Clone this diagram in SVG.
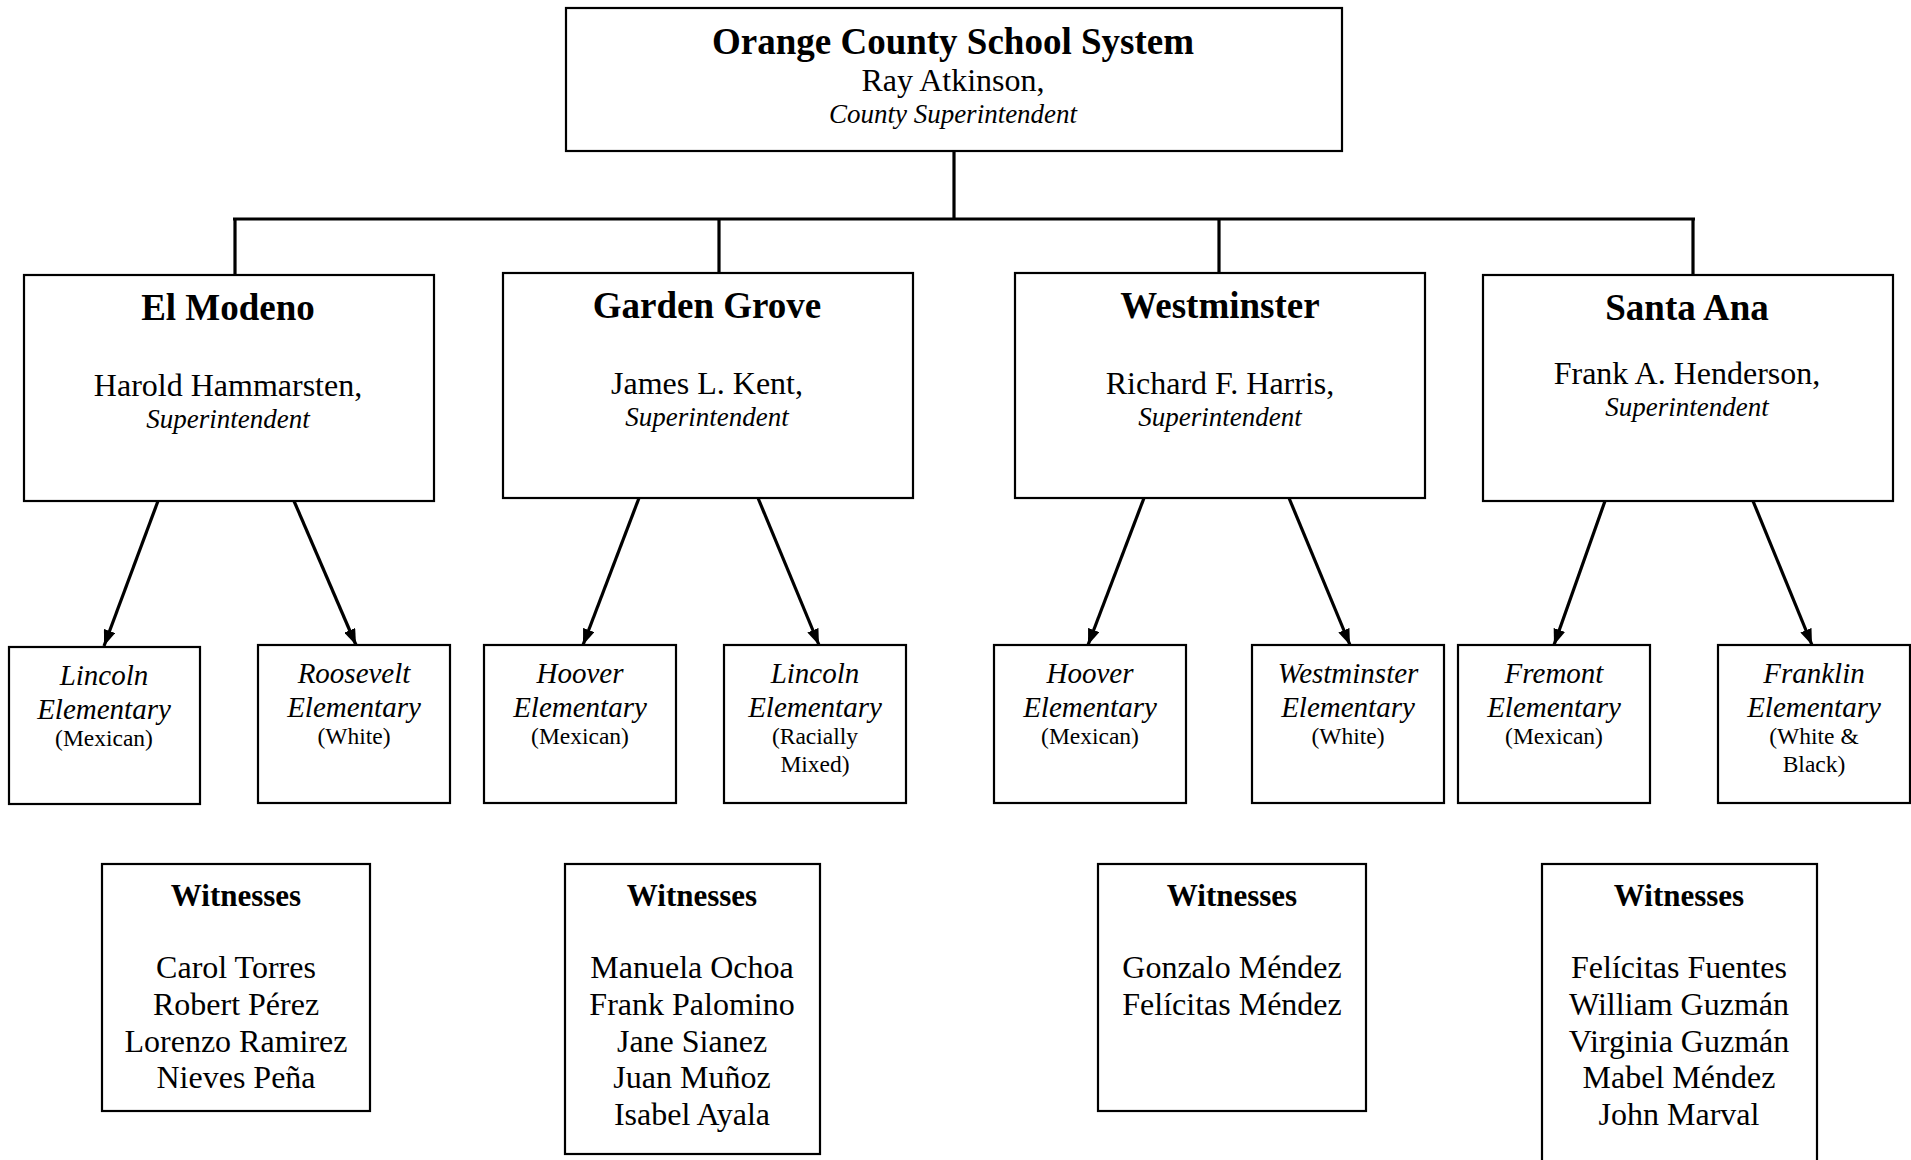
<svg xmlns="http://www.w3.org/2000/svg" width="1911" height="1160" viewBox="0 0 1911 1160">
<style>
  .box { fill: #fff; stroke: #000; stroke-width: 2.2; }
  text { font-family: "Liberation Serif", "Times New Roman", serif; fill: #000; text-anchor: middle; }
  .title { font-size: 37px; font-weight: bold; }
  .name { font-size: 32px; }
  .role { font-size: 27px; font-style: italic; }
  .school { font-size: 29px; font-style: italic; }
  .race { font-size: 23.5px; }
  .wit { font-size: 31px; font-weight: bold; }
  .conn { stroke: #000; stroke-width: 3.2; fill: none; }
</style>
<defs>
  <marker id="ah" markerWidth="16" markerHeight="12" refX="16" refY="6" orient="auto" markerUnits="userSpaceOnUse">
    <path d="M0,0 L16,6 L0,12 z" fill="#000"/>
  </marker>
</defs>
<rect width="1911" height="1160" fill="#fff"/>

<g id="connectors">
  <line class="conn" x1="954" y1="151" x2="954" y2="219"/>
  <line class="conn" x1="233" y1="219" x2="1695" y2="219"/>
  <line class="conn" x1="235" y1="219" x2="235" y2="275"/>
  <line class="conn" x1="719" y1="219" x2="719" y2="273"/>
  <line class="conn" x1="1219" y1="219" x2="1219" y2="273"/>
  <line class="conn" x1="1693" y1="219" x2="1693" y2="275"/>
  <line class="conn" x1="158" y1="501" x2="104" y2="646" marker-end="url(#ah)"/>
  <line class="conn" x1="294" y1="501" x2="356" y2="645" marker-end="url(#ah)"/>
  <line class="conn" x1="639" y1="498" x2="583" y2="645" marker-end="url(#ah)"/>
  <line class="conn" x1="758" y1="498" x2="819" y2="645" marker-end="url(#ah)"/>
  <line class="conn" x1="1144" y1="498" x2="1088" y2="645" marker-end="url(#ah)"/>
  <line class="conn" x1="1289" y1="498" x2="1350" y2="645" marker-end="url(#ah)"/>
  <line class="conn" x1="1605" y1="501" x2="1554" y2="645" marker-end="url(#ah)"/>
  <line class="conn" x1="1753" y1="501" x2="1812" y2="645" marker-end="url(#ah)"/>
</g>

<g id="county">
  <rect class="box" x="566" y="8" width="776" height="143"/>
  <text class="title" x="953" y="54">Orange County School System</text>
  <text class="name" x="953" y="91">Ray Atkinson,</text>
  <text class="role" x="953" y="123">County Superintendent</text>
</g>

<g id="elmodeno">
  <rect class="box" x="24" y="275" width="410" height="226"/>
  <text class="title" x="228" y="320">El Modeno</text>
  <text class="name" x="228" y="396">Harold Hammarsten,</text>
  <text class="role" x="228" y="428">Superintendent</text>
</g>
<g id="gardengrove">
  <rect class="box" x="503" y="273" width="410" height="225"/>
  <text class="title" x="707" y="318">Garden Grove</text>
  <text class="name" x="707" y="394">James L. Kent,</text>
  <text class="role" x="707" y="426">Superintendent</text>
</g>
<g id="westminster">
  <rect class="box" x="1015" y="273" width="410" height="225"/>
  <text class="title" x="1220" y="318">Westminster</text>
  <text class="name" x="1220" y="394">Richard F. Harris,</text>
  <text class="role" x="1220" y="426">Superintendent</text>
</g>
<g id="santaana">
  <rect class="box" x="1483" y="275" width="410" height="226"/>
  <text class="title" x="1687" y="320">Santa Ana</text>
  <text class="name" x="1687" y="384">Frank A. Henderson,</text>
  <text class="role" x="1687" y="416">Superintendent</text>
</g>

<g id="lincoln-em">
  <rect class="box" x="9" y="647" width="191" height="157"/>
  <text class="school" x="104" y="685">Lincoln</text>
  <text class="school" x="104" y="719">Elementary</text>
  <text class="race" x="104" y="746">(Mexican)</text>
</g>
<g id="roosevelt">
  <rect class="box" x="258" y="645" width="192" height="158"/>
  <text class="school" x="354" y="683">Roosevelt</text>
  <text class="school" x="354" y="717">Elementary</text>
  <text class="race" x="354" y="744">(White)</text>
</g>
<g id="hoover-gg">
  <rect class="box" x="484" y="645" width="192" height="158"/>
  <text class="school" x="580" y="683">Hoover</text>
  <text class="school" x="580" y="717">Elementary</text>
  <text class="race" x="580" y="744">(Mexican)</text>
</g>
<g id="lincoln-gg">
  <rect class="box" x="724" y="645" width="182" height="158"/>
  <text class="school" x="815" y="683">Lincoln</text>
  <text class="school" x="815" y="717">Elementary</text>
  <text class="race" x="815" y="744">(Racially</text>
  <text class="race" x="815" y="772">Mixed)</text>
</g>
<g id="hoover-w">
  <rect class="box" x="994" y="645" width="192" height="158"/>
  <text class="school" x="1090" y="683">Hoover</text>
  <text class="school" x="1090" y="717">Elementary</text>
  <text class="race" x="1090" y="744">(Mexican)</text>
</g>
<g id="westminster-e">
  <rect class="box" x="1252" y="645" width="192" height="158"/>
  <text class="school" x="1348" y="683">Westminster</text>
  <text class="school" x="1348" y="717">Elementary</text>
  <text class="race" x="1348" y="744">(White)</text>
</g>
<g id="fremont">
  <rect class="box" x="1458" y="645" width="192" height="158"/>
  <text class="school" x="1554" y="683">Fremont</text>
  <text class="school" x="1554" y="717">Elementary</text>
  <text class="race" x="1554" y="744">(Mexican)</text>
</g>
<g id="franklin">
  <rect class="box" x="1718" y="645" width="192" height="158"/>
  <text class="school" x="1814" y="683">Franklin</text>
  <text class="school" x="1814" y="717">Elementary</text>
  <text class="race" x="1814" y="744">(White &amp;</text>
  <text class="race" x="1814" y="772">Black)</text>
</g>

<g id="witnesses-em">
  <rect class="box" x="102" y="864" width="268" height="247"/>
  <text class="wit" x="236" y="906">Witnesses</text>
  <text class="name" x="236" y="978">Carol Torres</text>
  <text class="name" x="236" y="1015">Robert Pérez</text>
  <text class="name" x="236" y="1052">Lorenzo Ramirez</text>
  <text class="name" x="236" y="1088">Nieves Peña</text>
</g>
<g id="witnesses-gg">
  <rect class="box" x="565" y="864" width="255" height="290"/>
  <text class="wit" x="692" y="906">Witnesses</text>
  <text class="name" x="692" y="978">Manuela Ochoa</text>
  <text class="name" x="692" y="1015">Frank Palomino</text>
  <text class="name" x="692" y="1052">Jane Sianez</text>
  <text class="name" x="692" y="1088">Juan Muñoz</text>
  <text class="name" x="692" y="1125">Isabel Ayala</text>
</g>
<g id="witnesses-w">
  <rect class="box" x="1098" y="864" width="268" height="247"/>
  <text class="wit" x="1232" y="906">Witnesses</text>
  <text class="name" x="1232" y="978">Gonzalo Méndez</text>
  <text class="name" x="1232" y="1015">Felícitas Méndez</text>
</g>
<g id="witnesses-sa">
  <rect class="box" x="1542" y="864" width="275" height="310"/>
  <text class="wit" x="1679" y="906">Witnesses</text>
  <text class="name" x="1679" y="978">Felícitas Fuentes</text>
  <text class="name" x="1679" y="1015">William Guzmán</text>
  <text class="name" x="1679" y="1052">Virginia Guzmán</text>
  <text class="name" x="1679" y="1088">Mabel Méndez</text>
  <text class="name" x="1679" y="1125">John Marval</text>
</g>
</svg>
